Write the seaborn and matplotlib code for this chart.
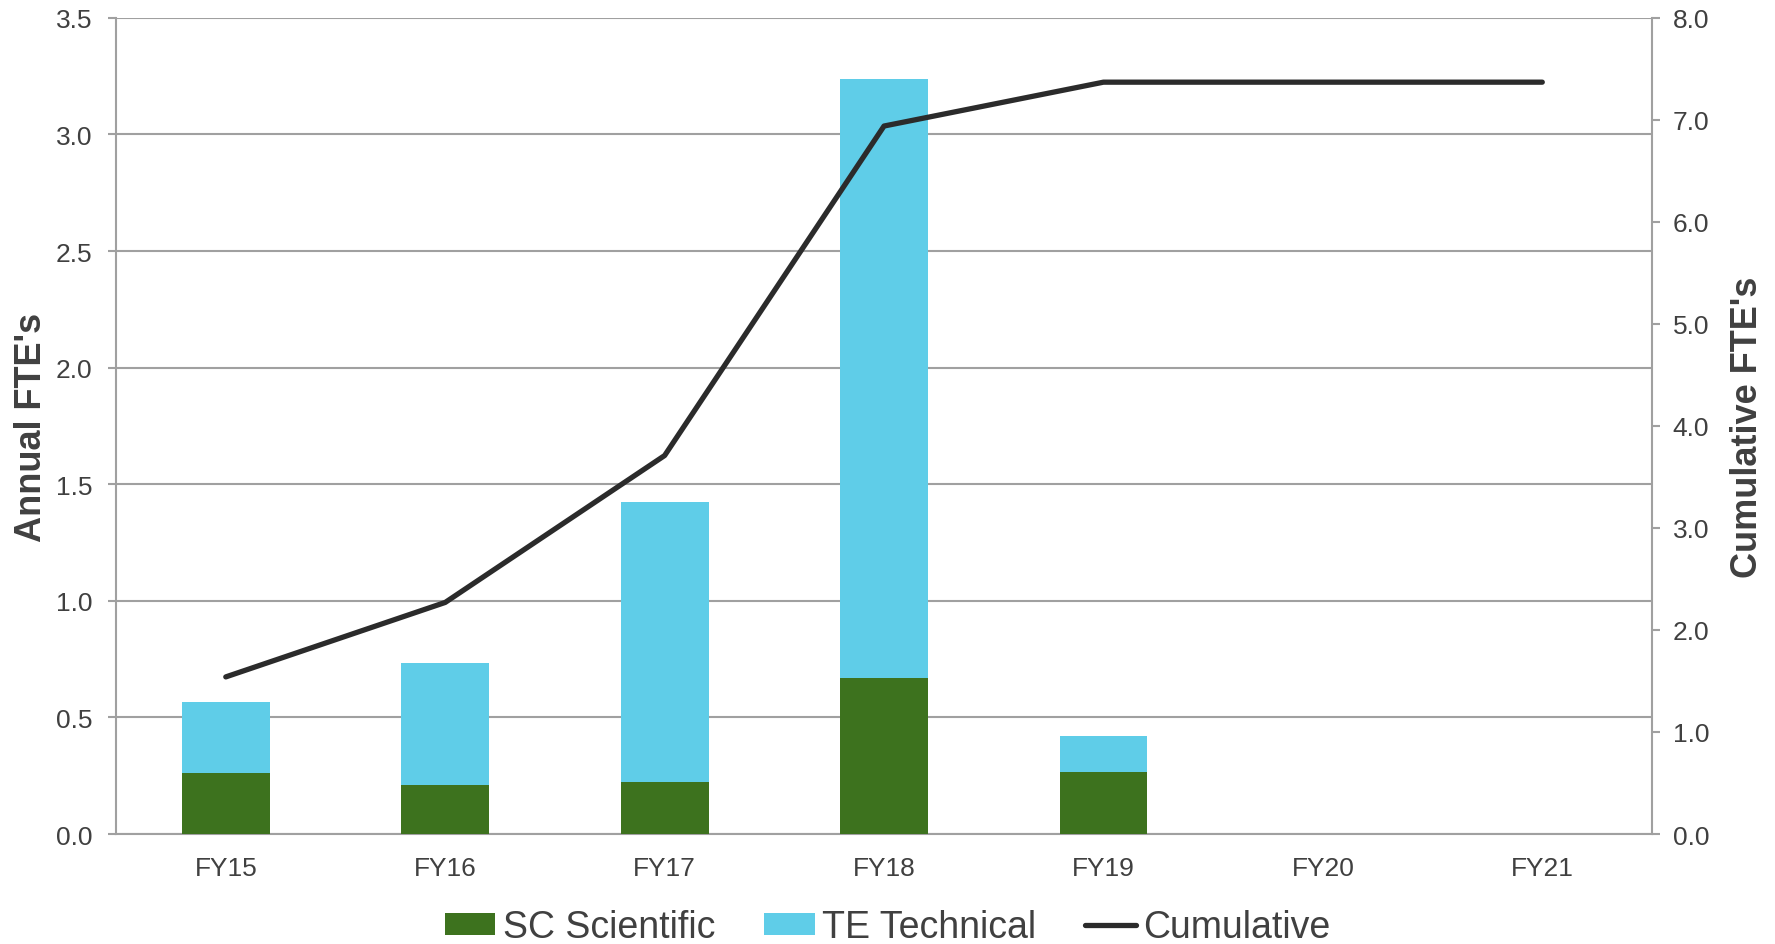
import numpy as np
import pandas as pd
import matplotlib
matplotlib.use("Agg")
import matplotlib.pyplot as plt
import seaborn as sns
from matplotlib.patches import Patch
from matplotlib.lines import Line2D

categories = ["FY15", "FY16", "FY17", "FY18", "FY19", "FY20", "FY21"]
sc_scientific = [0.262, 0.211, 0.224, 0.669, 0.267, 0.0, 0.0]
te_technical = [0.303, 0.521, 1.201, 2.567, 0.152, 0.0, 0.0]
cumulative = [1.54, 2.27, 3.71, 6.94, 7.37, 7.37, 7.37]
left_ticks = [0.0, 0.5, 1.0, 1.5, 2.0, 2.5, 3.0, 3.5]
right_ticks = [0.0, 1.0, 2.0, 3.0, 4.0, 5.0, 6.0, 7.0, 8.0]

GREEN = "#3D721E"
CYAN = "#5FCDE8"
LINE = "#2B2B2B"
GRID = "#A0A0A0"
TXT = "#404040"

sns.set_theme(style="white")
plt.rcParams["font.family"] = ["Liberation Sans", "DejaVu Sans"]

df = pd.DataFrame({
    "cat": categories,
    "sc": sc_scientific,
    "total": np.array(sc_scientific) + np.array(te_technical),
    "cum": cumulative,
})

fig = plt.figure(figsize=(17.75, 9.45), dpi=100)
ax = fig.add_axes([0.0654, 0.1164, 0.9307 - 0.0654, 0.980 - 0.1164])

sns.barplot(data=df, x="cat", y="total", color=CYAN, width=0.4, ax=ax,
            saturation=1, linewidth=0, zorder=3)
sns.barplot(data=df, x="cat", y="sc", color=GREEN, width=0.4, ax=ax,
            saturation=1, linewidth=0, zorder=4)

ax.set_xlim(-0.5, len(categories) - 0.5)
ax.set_ylim(0, 3.5)
ax.set_yticks(left_ticks)
ax.set_yticklabels([f"{t:.1f}" for t in left_ticks])
ax.yaxis.grid(True, color=GRID, linewidth=1.5, zorder=0)
ax.set_axisbelow(True)
ax.set_xlabel("")
ax.set_ylabel("Annual FTE's", fontsize=26, fontweight="bold", color=TXT, labelpad=5)

ax.set_xticks(np.arange(len(categories)))
ax.set_xticklabels(categories)
ax.set_xticks(np.arange(-0.5, len(categories), 1.0), minor=True)
ax.tick_params(axis="x", which="major", length=0, pad=16, labelsize=19, colors=TXT)
ax.tick_params(axis="x", which="minor", length=8, width=1.5, color=GRID, direction="out")
ax.tick_params(axis="y", length=6, width=1.5, color=GRID, direction="out",
               pad=11, labelsize=19, labelcolor=TXT, left=True)

for s in ["left", "bottom"]:
    ax.spines[s].set_color(GRID)
    ax.spines[s].set_linewidth(1.5)
ax.spines["top"].set_visible(False)
ax.spines["right"].set_visible(False)

ax2 = ax.twinx()
sns.lineplot(x=np.arange(len(categories)), y=df["cum"], ax=ax2, color=LINE,
             linewidth=3.8, zorder=5, solid_capstyle="round")
ax2.set_ylim(0, 8)
ax2.set_yticks(right_ticks)
ax2.set_yticklabels([f"{t:.1f}" for t in right_ticks])
ax2.set_ylabel("Cumulative FTE's", fontsize=26, fontweight="bold", color=TXT, labelpad=15)
ax2.tick_params(axis="y", length=6, width=1.5, color=GRID, direction="out",
                pad=9, labelsize=19, labelcolor=TXT, right=True)
ax2.grid(False)
for s in ["left", "top", "bottom"]:
    ax2.spines[s].set_visible(False)
ax2.spines["right"].set_color(GRID)
ax2.spines["right"].set_linewidth(1.5)

handles = [Patch(facecolor=GREEN, edgecolor="none"),
           Patch(facecolor=CYAN, edgecolor="none"),
           Line2D([0], [0], color=LINE, linewidth=3.8)]
labels = ["SC Scientific", "TE Technical", "Cumulative"]
fig.legend(handles, labels, loc="lower center", bbox_to_anchor=(0.5, -0.037),
           ncol=3, frameon=False, fontsize=27, handlelength=1.35, handleheight=0.5,
           handletextpad=0.2, columnspacing=1.3, labelcolor=TXT)

fig.savefig("out.png", dpi=100)
